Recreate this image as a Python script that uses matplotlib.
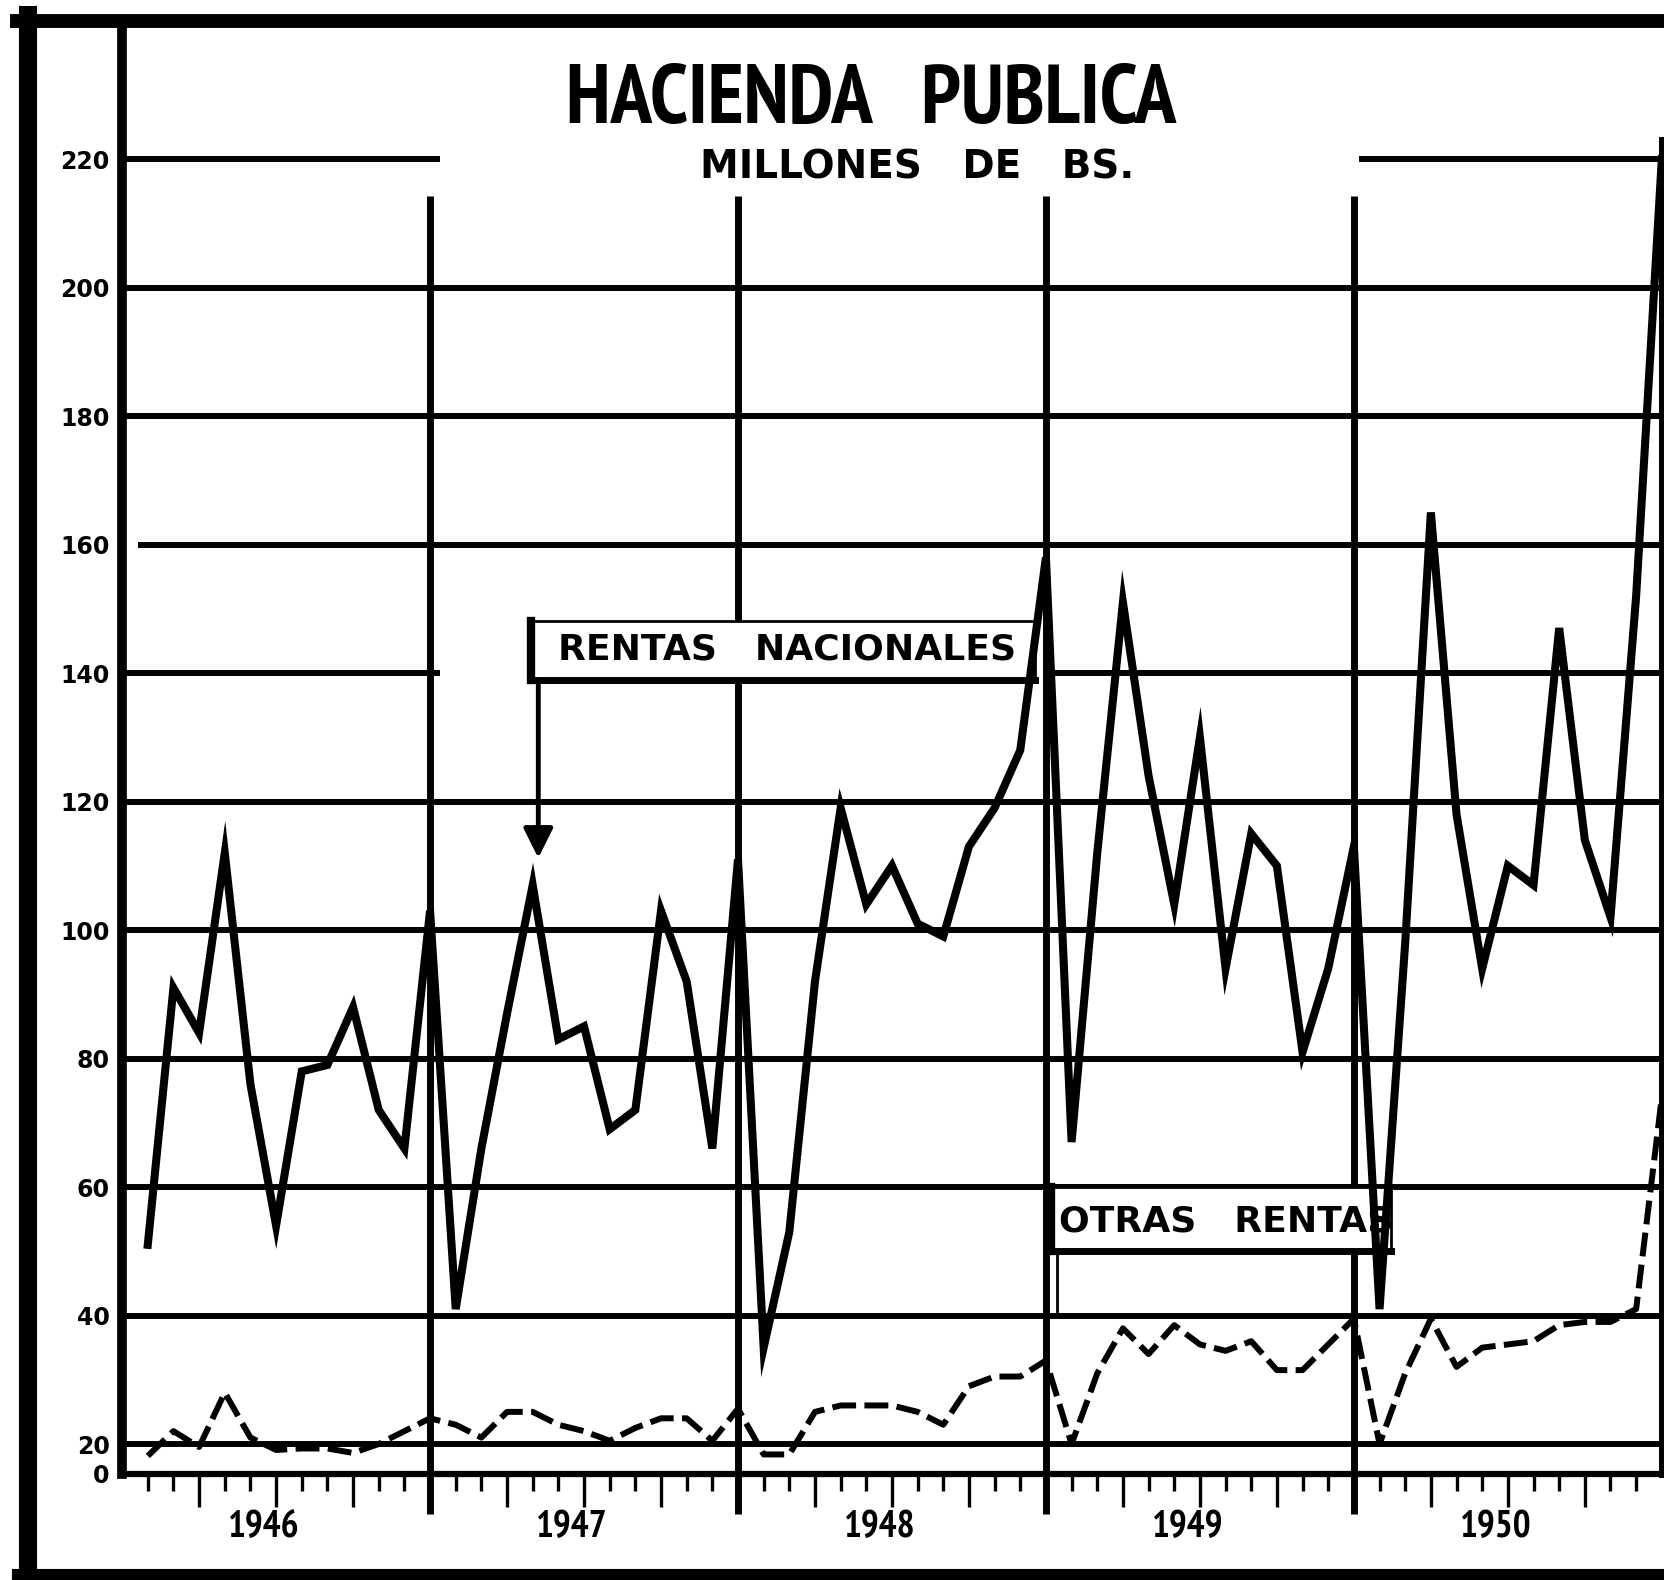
import numpy as np
import matplotlib
matplotlib.use("Agg")
import matplotlib.pyplot as plt
from matplotlib import font_manager
from matplotlib.font_manager import FontProperties
from matplotlib.patches import Rectangle
from matplotlib.lines import Line2D
import matplotlib.transforms as mtransforms

# ---------------- data ----------------
years = [1946, 1947, 1948, 1949, 1950]
rentas_nacionales = [
    51, 91, 84, 112, 76, 54, 78, 79, 88, 72, 66, 103,      # 1946
    41, 66, 87, 107, 83, 85, 69, 72, 103, 92, 66, 111,     # 1947
    35, 53, 92, 119, 104, 110, 101, 99, 113, 119, 128, 158,  # 1948
    67, 112, 151, 124, 104, 130, 94, 115, 110, 81, 94, 113,  # 1949
    41, 98, 165, 118, 94, 110, 107, 147, 114, 102, 152, 220,  # 1950
]
otras_rentas = [
    12, 22, 18, 28, 21, 16, 17, 17, 14, 20, 22, 24,          # 1946
    23, 21, 25, 25, 23, 22, 20.5, 22.5, 24, 24, 20.5, 25.5,  # 1947
    13, 13, 25, 26, 26, 26, 25, 23, 29, 30.5, 30.5, 33,      # 1948
    20, 31, 38, 34, 38.5, 35.5, 34.5, 36, 31.5, 31.5, 35.5, 39.5,  # 1949
    20, 31, 39.5, 32, 35, 35.5, 36, 38.5, 39, 39, 41, 74,    # 1950
]
y_ticks = [0, 20, 40, 60, 80, 100, 120, 140, 160, 180, 200, 220]
y_tick_labels = [str(v) for v in y_ticks]

title = "HACIENDA   PUBLICA"
subtitle = "MILLONES   DE   BS."
label_rentas = "RENTAS   NACIONALES"
label_otras = "OTRAS   RENTAS"

plt.rcParams["font.family"] = ["DejaVu Sans"]


# ---------------- fonts: look for a bold condensed face ----------------
def find_condensed_bold():
    best = None
    for f in font_manager.fontManager.ttflist:
        name = f.name
        st = str(f.stretch)
        cond = ("Narrow" in name or "Condensed" in name or
                st in ("condensed", "semi-condensed", "extra-condensed", "ultra-condensed"))
        w = f.weight
        if isinstance(w, str):
            bold = w.lower() in ("bold", "heavy", "black", "extra bold", "ultrabold", "demibold", "semibold")
        else:
            bold = w >= 600
        if cond and bold and "Italic" not in f.fname and "Oblique" not in f.fname and f.style == "normal":
            best = f.fname
            if "Narrow" in name:
                break
    return best


cond_file = find_condensed_bold()
if cond_file:
    cond_fp = FontProperties(fname=cond_file)
else:
    cond_fp = FontProperties(family="DejaVu Sans", weight="bold")

# ---------------- figure ----------------
W_PX, H_PX = 1568.0, 1488.0  # layout reference grid
SCALE = 1665.0 / W_PX
fig = plt.figure(figsize=(16.65, 15.80), dpi=100)
fig.patch.set_facecolor("white")

L = 115 / W_PX
R = 1565 / W_PX
B = 1 - 1388 / H_PX
T = 1 - 30 / H_PX
ax = fig.add_axes([L, B, R - L, T - B])
ax.set_facecolor("white")

RATIO = 0.232  # compressed band between 0 and 20


def fwd(v):
    v = np.asarray(v, dtype=float)
    return np.where(v < 20, 20 - (20 - v) * RATIO, v)


def inv(p):
    p = np.asarray(p, dtype=float)
    return np.where(p < 20, 20 - (20 - p) / RATIO, p)


ax.set_yscale("function", functions=(fwd, inv))
n_months = len(rentas_nacionales)
months = np.arange(1, n_months + 1)
ax.set_xlim(0, n_months)
ax.set_ylim(0, 239.8)

# gridlines
full = [(0, n_months)]
grid_segments = {
    20: full, 40: full, 60: full, 80: full, 100: full, 120: full,
    140: [(0, 12.4), (36.2, n_months)],
    160: [(0.6, n_months)], 180: full, 200: full,
    220: [(0, 12.4), (48.2, n_months)],
}
for yv, segs in grid_segments.items():
    for x0, x1 in segs:
        ax.hlines(yv, x0, x1, colors="black", linewidth=4.3, zorder=1)

trans = mtransforms.blended_transform_factory(ax.transData, ax.transAxes)
for k in range(1, len(years)):
    ax.plot([12 * k, 12 * k], [-0.028, 0.886], transform=trans, color="black",
            linewidth=5, clip_on=False, solid_capstyle="butt", zorder=2)

# spines
ax.spines["top"].set_visible(False)
ax.spines["left"].set_linewidth(7)
ax.spines["bottom"].set_linewidth(4.5)
ax.spines["right"].set_linewidth(5)
ax.spines["right"].set_bounds(0, 223)

# x ticks (monthly, longer at quarters)
major = [m for m in range(3, n_months, 3) if m % 12 != 0]
minor = [m for m in range(1, n_months) if m % 3 != 0]
ax.set_xticks(major)
ax.set_xticks(minor, minor=True)
ax.set_xticklabels([])
ax.tick_params(axis="x", which="major", length=24, width=2.4, direction="out", color="black")
ax.tick_params(axis="x", which="minor", length=12, width=2.4, direction="out", color="black")

# y ticks
ax.set_yticks(y_ticks)
ax.set_yticklabels(y_tick_labels)
ax.yaxis.set_minor_locator(matplotlib.ticker.NullLocator())
ax.tick_params(axis="y", which="major", length=0, pad=9, labelsize=17)
for lbl in ax.get_yticklabels():
    lbl.set_fontweight("bold")

renderer = fig.canvas.get_renderer()


def fit(txt, target_w_px, lo, hi):
    """Scale a text's font size so that its width matches target (full px)."""
    fs = txt.get_fontsize()
    w = txt.get_window_extent(renderer=renderer).width
    if w > 0:
        fs = fs * target_w_px / w
    txt.set_fontsize(max(lo, min(hi, fs)))


# year labels
for i, yr in enumerate(years):
    t = ax.text(12 * i + 5.5, -0.037, str(yr), transform=trans, ha="center", va="center",
                fontproperties=cond_fp, fontsize=26, clip_on=False)
    fit(t, 68 * SCALE, 22, 27)

# data lines
ax.plot(months, rentas_nacionales, color="black", linewidth=5.8, zorder=5,
        solid_joinstyle="miter", clip_on=False)
ax.plot(months, otras_rentas, color="black", linewidth=4.3, zorder=5,
        dashes=(4, 1.4))

# label box: RENTAS NACIONALES
bx0, bx1, by0, by1 = 0.2655, 0.5931, 0.5508, 0.5913
ax.add_patch(Rectangle((bx0, by0), bx1 - bx0, by1 - by0, transform=ax.transAxes,
                       facecolor="white", edgecolor="black", linewidth=2, zorder=3))
ax.plot([bx0, bx0], [by0, by1], transform=ax.transAxes, color="black", linewidth=6, zorder=3)
ax.plot([bx0, bx1], [by0, by0], transform=ax.transAxes, color="black", linewidth=5, zorder=3)
ax.text(0.2828, 0.5714, label_rentas, transform=ax.transAxes, fontsize=26,
        fontweight="bold", ha="left", va="center", zorder=4)
ax.annotate("", xy=(0.2703, 0.4271), xytext=(0.2703, by0), xycoords="axes fraction",
            textcoords="axes fraction",
            arrowprops=dict(arrowstyle="-|>,head_length=0.9,head_width=0.45",
                            mutation_scale=20, lw=3.5, color="black",
                            shrinkA=0, shrinkB=0), zorder=4)

# label box: OTRAS RENTAS
ox0, ox1, oy0, oy1 = 0.6034, 0.8241, 0.1546, 0.1988
ax.add_patch(Rectangle((ox0, oy0), ox1 - ox0, oy1 - oy0, transform=ax.transAxes,
                       facecolor="white", edgecolor="black", linewidth=2, zorder=3))
ax.plot([ox0, ox0], [oy0, oy1], transform=ax.transAxes, color="black", linewidth=6, zorder=3)
ax.plot([ox0, ox1], [oy0, oy0], transform=ax.transAxes, color="black", linewidth=5, zorder=3)
ax.plot([0.6069, 0.6069], [0.1127, oy0], transform=ax.transAxes, color="black", linewidth=2, zorder=3)
ax.text(0.6083, 0.1753, label_otras, transform=ax.transAxes, fontsize=26,
        fontweight="bold", ha="left", va="center", zorder=4)

# titles
t1 = fig.text(820 / W_PX, 1 - 96 / H_PX, title, ha="center", va="center",
              fontproperties=cond_fp, fontsize=58)
fit(t1, 675 * SCALE, 44, 60)
fig.text(864 / W_PX, 1 - 158 / H_PX, subtitle, ha="center", va="center",
         fontsize=28, fontweight="bold", family="DejaVu Sans")

# outer frame
fig.add_artist(Line2D([0.010, 1.0], [1 - 20 / H_PX, 1 - 20 / H_PX], transform=fig.transFigure,
                      color="black", linewidth=10))
fig.add_artist(Line2D([26 / W_PX, 26 / W_PX], [0.004, 1 - 14 / H_PX], transform=fig.transFigure,
                      color="black", linewidth=13))
fig.add_artist(Line2D([0.010, 1.0], [1 - 1482 / H_PX, 1 - 1482 / H_PX], transform=fig.transFigure,
                      color="black", linewidth=8))

fig.savefig("out.png", dpi=100, facecolor="white")
